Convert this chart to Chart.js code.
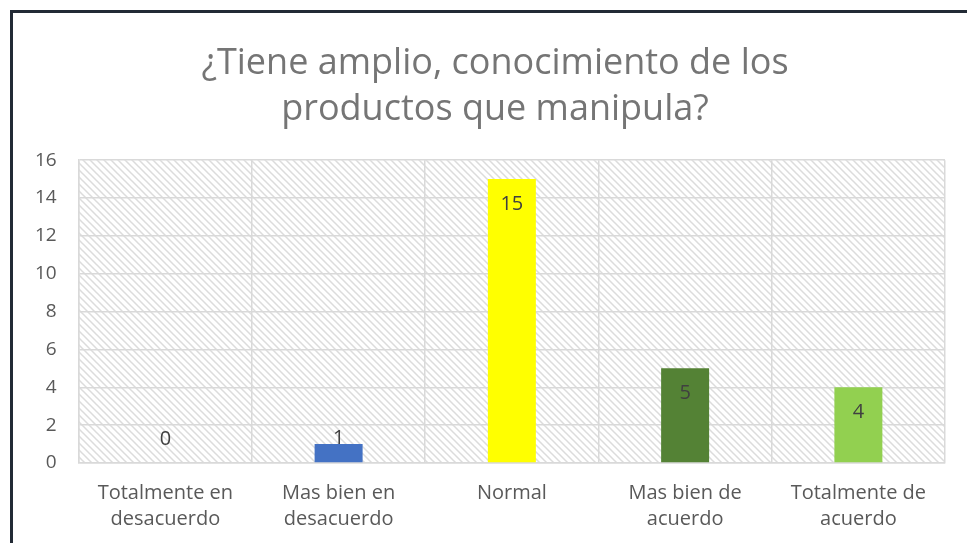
<!DOCTYPE html>
<html>
<head>
<meta charset="utf-8">
<script src="https://cdn.jsdelivr.net/npm/chart.js@4"></script>
<style>
  html, body { margin: 0; padding: 0; background: #fff; overflow: hidden; }
  #frame {
    position: absolute; left: 10px; top: 10px;
    width: 967px; height: 545px;
    border-left: 3px solid #222a35; border-top: 3px solid #222a35;
  }
  #wrap { position: absolute; left: 0; top: 0; width: 964px; height: 545px; }
</style>
</head>
<body>
<div id="frame"><div id="wrap"><canvas id="barChart"></canvas></div></div>
<script>
var categories = [
    ["Totalmente en", "desacuerdo"],
    ["Mas bien en", "desacuerdo"],
    "Normal",
    ["Mas bien de", "acuerdo"],
    ["Totalmente de", "acuerdo"]
];
var values = [0, 1, 15, 5, 4];
var barColors = ["#4472C4", "#4472C4", "#FFFF00", "#548235", "#92D050"];
var titleLines = ["¿Tiene amplio, conocimiento de los", "productos que manipula?"];

function makeHatch() {
    var c = document.createElement("canvas");
    c.width = 7; c.height = 7;
    var g = c.getContext("2d");
    g.fillStyle = "#ffffff";
    g.fillRect(0, 0, 7, 7);
    g.strokeStyle = "#dcdcdc";
    g.lineWidth = 1.5;
    g.beginPath();
    g.moveTo(-2, -2); g.lineTo(9, 9);
    g.moveTo(-9, -2); g.lineTo(2, 9);
    g.moveTo(5, -2); g.lineTo(16, 9);
    g.stroke();
    return g.createPattern(c, "repeat");
}

var hatchBackground = {
    id: "hatchBackground",
    beforeDraw: function (chart) {
        var a = chart.chartArea;
        var ctx = chart.ctx;
        ctx.save();
        ctx.fillStyle = makeHatch();
        ctx.fillRect(a.left, a.top, a.right - a.left, a.bottom - a.top);
        ctx.restore();
    }
};

var barLabels = {
    id: "barLabels",
    afterDatasetsDraw: function (chart) {
        var ctx = chart.ctx;
        var meta = chart.getDatasetMeta(0);
        ctx.save();
        ctx.font = "20px 'Open Sans'";
        ctx.fillStyle = "#404040";
        ctx.textAlign = "center";
        ctx.textBaseline = "middle";
        meta.data.forEach(function (bar, i) {
            var h = bar.base - bar.y;
            var y = h > 30 ? bar.y + 25 : bar.base - 24;
            ctx.fillText(String(values[i]), bar.x, y);
        });
        ctx.restore();
    }
};

var ctx = document.getElementById("barChart").getContext("2d");
var barChart = new Chart(ctx, {
    type: "bar",
    data: {
        labels: categories,
        datasets: [{
            data: values,
            backgroundColor: barColors,
            barPercentage: 0.277,
            categoryPercentage: 1
        }]
    },
    options: {
        responsive: true,
        maintainAspectRatio: false,
        animation: false,
        layout: { padding: { left: 0, right: 0, top: 0, bottom: 9 } },
        plugins: {
            legend: { display: false },
            tooltip: { enabled: false },
            title: {
                display: true,
                text: titleLines,
                color: "#757575",
                font: { family: "'Open Sans'", size: 36, weight: "normal", lineHeight: 1.28 },
                padding: { top: 28, bottom: 27 }
            }
        },
        scales: {
            x: {
                grid: { color: "#d9d9d9", lineWidth: 1.5, drawTicks: false },
                border: { color: "#d9d9d9", width: 1.5 },
                ticks: {
                    color: "#595959",
                    font: { family: "'Open Sans'", size: 20, lineHeight: 1.3 },
                    padding: 17,
                    maxRotation: 0,
                    autoSkip: false
                }
            },
            y: {
                min: 0,
                max: 16,
                grid: { color: "#d9d9d9", lineWidth: 1.5, drawTicks: false },
                border: { color: "#d9d9d9", width: 1.5 },
                ticks: {
                    stepSize: 2,
                    color: "#595959",
                    font: { family: "'Open Sans'", size: 19 },
                    padding: 22
                }
            },
            // empty right axis, only keeps a margin so the title stays centred on the frame
            yRight: {
                position: "right",
                min: 0,
                max: 16,
                afterFit: function (scale) { scale.width = 32; },
                grid: { display: false },
                border: { display: false },
                ticks: { display: false }
            }
        }
    },
    plugins: [hatchBackground, barLabels]
});
</script>
</body>
</html>
